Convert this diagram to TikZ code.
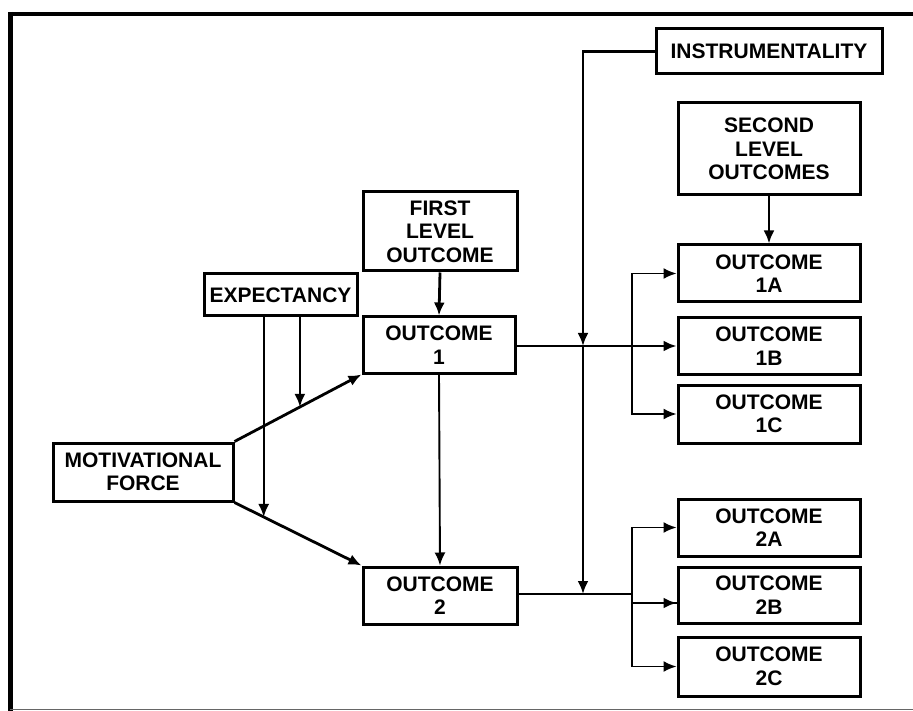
\documentclass[tikz,border=0pt]{standalone}
\usepackage{fontspec}
\setmainfont{Liberation Sans}
\usetikzlibrary{arrows.meta,calc}
\tikzset{
  box/.style={draw=black, line width=3pt, rectangle, align=center, inner sep=0pt,
    font=\fontsize{21}{23.5}\selectfont\bfseries},
  arr/.style={line width=2.8pt, -{Latex[length=13pt,width=11pt]}},
  thinarr/.style={line width=1.9pt, -{Latex[length=13pt,width=11pt]}},
  ln/.style={line width=2.8pt},
  thinln/.style={line width=1.9pt},
}
\begin{document}
\begin{tikzpicture}[x=1pt,y=-1pt]
\useasboundingbox (0,0) rectangle (913,711);
% frame
\draw[line width=4.5pt] (10,14) -- (913,14);
\draw[line width=5pt] (10,12) -- (10,711);
\draw[line width=1.5pt, black!60] (10,709.5) -- (913,709.5);

% nodes
\node[box, minimum width=226pt, minimum height=45pt] (instr) at (769,51.5) {INSTRUMENTALITY};
\node[box, minimum width=182pt, minimum height=92pt] (second) at (769,149) {SECOND\\LEVEL\\OUTCOMES};
\node[box, minimum width=182pt, minimum height=57pt] (o1a) at (769,273.5) {OUTCOME\\1A};
\node[box, minimum width=182pt, minimum height=57pt] (o1b) at (769,346) {OUTCOME\\1B};
\node[box, minimum width=182pt, minimum height=58pt] (o1c) at (769,414) {OUTCOME\\1C};
\node[box, minimum width=182pt, minimum height=57pt] (o2a) at (769,527.5) {OUTCOME\\2A};
\node[box, minimum width=182pt, minimum height=56pt] (o2b) at (769,595) {OUTCOME\\2B};
\node[box, minimum width=182pt, minimum height=59pt] (o2c) at (769,666.5) {OUTCOME\\2C};
\node[box, minimum width=154pt, minimum height=79pt] (first) at (440,231.5) {FIRST\\LEVEL\\OUTCOME};
\node[box, minimum width=152pt, minimum height=56pt] (o1) at (439,345) {OUTCOME\\1};
\node[box, minimum width=154pt, minimum height=57pt] (o2) at (440,595.5) {OUTCOME\\2};
\node[box, minimum width=153pt, minimum height=42pt] (expect) at (280.5,295) {EXPECTANCY};
\node[box, minimum width=180pt, minimum height=58pt] (motiv) at (143,472) {MOTIVATIONAL\\FORCE};

% coordinates
\coordinate (e1) at ($(motiv.north east)!0.515!(o1.south west)$);
\coordinate (e2) at ($(motiv.south east)!0.23!(o2.north west)$);
\coordinate (br1) at (632,346);
\coordinate (br2) at (632,594);
\coordinate (i1) at (583,346);
\coordinate (i2) at (583,594);
\coordinate (o2bin) at ([yshift=-8pt]o2b.west);

% motivational force to outcomes
\draw[arr] (motiv.north east) -- (o1.south west);
\draw[arr] (motiv.south east) -- (o2.north west);
% expectancy
\draw[arr] (expect.south -| e1) -- (e1);
\draw[thinarr] (expect.south -| e2) -- (e2);
% first level
\draw[arr] (first.south) -- (o1.north);
\draw[thinarr] (o1.south) -- (o2.north);
% outcome 1 branches
\draw[arr] (o1.east |- o1b.west) -- (o1b.west);
\draw[thinarr] (br1) |- (o1a.west);
\draw[thinarr] (br1) |- (o1c.west);
% outcome 2 branches
\draw[ln] (o2.east |- br2) -- (br2);
\draw[thinln] (br2) |- (o2bin);
\draw[thinarr] (br2) |- (o2a.west);
\draw[arr] (br2 |- o2bin) -- (o2bin);
\draw[thinarr] (br2) |- (o2c.west);
% second level
\draw[arr] (second.south) -- (o1a.north);
% instrumentality
\draw[arr] (instr.west) -| (i1);
\draw[arr] (i1) -- (i2);
\end{tikzpicture}
\end{document}
